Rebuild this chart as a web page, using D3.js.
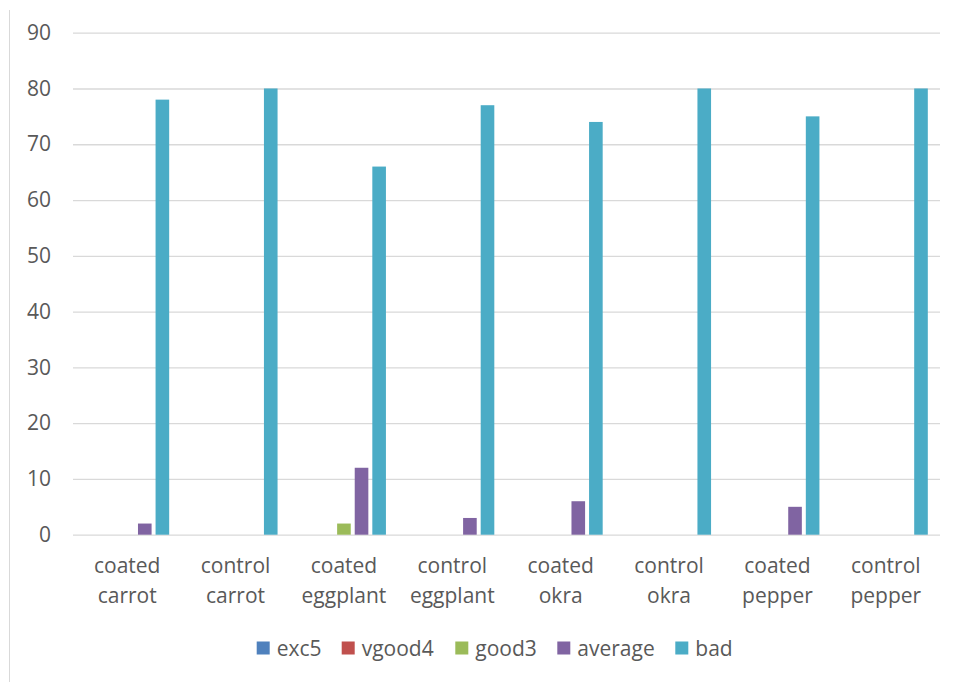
<!DOCTYPE html>
<html>
<head>
<meta charset="utf-8">
<script src="https://cdn.jsdelivr.net/npm/d3@7"></script>
<style>
  html, body { margin: 0; padding: 0; background: #fff; }
  svg { display: block; }
  text { font-family: "Open Sans", sans-serif; fill: #595959; }
</style>
</head>
<body>
<svg id="chart" width="957" height="682"></svg>
<script>
// Categories (two-line labels) and rating series
const categories = [
  "coated carrot", "control carrot", "coated eggplant", "control eggplant",
  "coated okra", "control okra", "coated pepper", "control pepper"
];
const seriesNames = ["exc5", "vgood4", "good3", "average", "bad"];
const exc5    = [0, 0, 0, 0, 0, 0, 0, 0];
const vgood4  = [0, 0, 0, 0, 0, 0, 0, 0];
const good3   = [0, 0, 2, 0, 0, 0, 0, 0];
const average = [2, 0, 12, 3, 6, 0, 5, 0];
const bad     = [78, 80, 66, 77, 74, 80, 75, 80];
const yTicks  = [0, 10, 20, 30, 40, 50, 60, 70, 80, 90];
const colors  = ["#4F81BD", "#C0504D", "#9BBB59", "#8064A2", "#4BACC6"];

const seriesValues = [exc5, vgood4, good3, average, bad];
const rows = categories.map((c, i) => ({
  category: c,
  values: seriesNames.map((s, j) => ({ series: s, value: seriesValues[j][i] }))
}));

const svg = d3.select("#chart");

// Outer frame edge on the left
svg.append("line")
  .attr("x1", 9.5).attr("x2", 9.5).attr("y1", 10).attr("y2", 682)
  .attr("stroke", "#d9d9d9").attr("stroke-width", 1);

const plot = { left: 73, right: 940, top: 32.7, bottom: 534.7 };

const x0 = d3.scaleBand().domain(categories).range([plot.left, plot.right]).padding(0);
const y = d3.scaleLinear().domain([0, 90]).range([plot.bottom, plot.top]);

const bw = x0.bandwidth();
const clusterW = bw * 0.775;
const x1 = d3.scaleBand().domain(seriesNames)
  .range([(bw - clusterW) / 2, (bw + clusterW) / 2])
  .paddingInner(0.226).paddingOuter(0);
const color = d3.scaleOrdinal().domain(seriesNames).range(colors);

// Horizontal gridlines and y tick labels
const yAxis = d3.axisLeft(y).tickValues(yTicks).tickSize(-(plot.right - plot.left)).tickPadding(22);
const gy = svg.append("g").attr("transform", `translate(${plot.left},0)`).call(yAxis);
gy.select(".domain").remove();
gy.selectAll(".tick line").attr("stroke", "#d9d9d9").attr("stroke-width", 1.3);
gy.selectAll(".tick text")
  .attr("font-size", "21px")
  .attr("fill", "#595959")
  .style("font-family", "'Open Sans', sans-serif");

// Bars
const groups = svg.append("g").selectAll("g")
  .data(rows).join("g")
  .attr("transform", d => `translate(${x0(d.category)},0)`);

groups.selectAll("rect")
  .data(d => d.values.filter(v => v.value > 0))
  .join("rect")
  .attr("x", d => x1(d.series))
  .attr("width", x1.bandwidth())
  .attr("y", d => y(d.value))
  .attr("height", d => y(0) - y(d.value))
  .attr("fill", d => color(d.series));

// Category labels (two lines each)
const xAxis = d3.axisBottom(x0).tickSize(0).tickFormat("");
const gx = svg.append("g").attr("transform", `translate(0,${plot.bottom})`).call(xAxis);
gx.select(".domain").remove();
gx.selectAll(".tick").each(function(d) {
  const parts = d.split(" ");
  const t = d3.select(this).append("text")
    .attr("text-anchor", "middle")
    .attr("font-size", "21px")
    .attr("fill", "#595959");
  parts.forEach((p, i) => {
    t.append("tspan").attr("x", 0).attr("y", 38.5 + i * 29.5).text(p);
  });
});

// Legend
const legendX = [256.7, 341.7, 455.3, 557.3, 675.3];
const legend = svg.append("g");
seriesNames.forEach((s, i) => {
  const g = legend.append("g").attr("transform", `translate(${legendX[i]},648)`);
  g.append("rect").attr("x", 0).attr("y", -6.5).attr("width", 13).attr("height", 13)
    .attr("fill", color(s));
  g.append("text").attr("x", 20).attr("y", 0).attr("dy", "0.36em")
    .attr("font-size", "21px").text(s);
});
</script>
</body>
</html>
